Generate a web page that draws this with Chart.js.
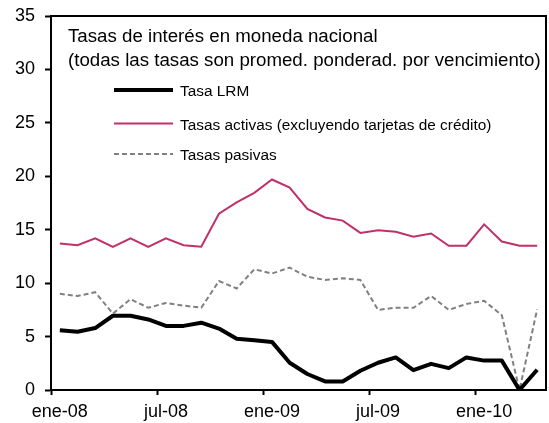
<!DOCTYPE html>
<html>
<head>
<meta charset="utf-8">
<script src="https://cdn.jsdelivr.net/npm/chart.js@4/dist/chart.umd.min.js"></script>
<style>
  html, body { margin: 0; padding: 0; background: #fff; }
  #wrap { width: 549px; height: 423px; }
</style>
</head>
<body>
<div id="wrap"><canvas id="c" width="549" height="423"></canvas></div>
<script>
// ---- data ----
const categories = [
  'ene-08','feb-08','mar-08','abr-08','may-08','jun-08','jul-08','ago-08','sep-08','oct-08','nov-08','dic-08',
  'ene-09','feb-09','mar-09','abr-09','may-09','jun-09','jul-09','ago-09','sep-09','oct-09','nov-09','dic-09',
  'ene-10','feb-10','mar-10','abr-10'
];
const tickLabels = ['ene-08', 'jul-08', 'ene-09', 'jul-09', 'ene-10'];
const tasaLRM = [5.6, 5.45, 5.8, 6.95, 6.95, 6.6, 6.0, 6.0, 6.3, 5.75, 4.8, 4.65, 4.5, 2.55,
                 1.5, 0.8, 0.8, 1.8, 2.55, 3.05, 1.85, 2.45, 2.05, 3.05, 2.75, 2.75, 0, 1.9];
const tasasActivas = [13.7, 13.55, 14.2, 13.4, 14.2, 13.4, 14.2, 13.55, 13.4, 16.5, 17.55, 18.45, 19.7, 18.95,
                      16.95, 16.15, 15.85, 14.7, 14.95, 14.8, 14.35, 14.65, 13.5, 13.5, 15.5, 13.9, 13.5, 13.5];
const tasasPasivas = [9.0, 8.8, 9.15, 7.15, 8.5, 7.7, 8.15, 7.9, 7.7, 10.2, 9.5, 11.3, 10.9, 11.45,
                      10.6, 10.3, 10.45, 10.3, 7.5, 7.7, 7.7, 8.8, 7.5, 8.05, 8.35, 7.0, 0, 7.55];
const seriesNames = ['Tasa LRM', 'Tasas activas (excluyendo tarjetas de crédito)', 'Tasas pasivas'];
const titleLines = ['Tasas de interés en moneda nacional', '(todas las tasas son promed. ponderad. por vencimiento)'];

const FONT = '"Liberation Sans", Arial, sans-serif';

// Title + legend drawn inside the plot area
const insideLegend = {
  id: 'insideLegend',
  afterDatasetsDraw(chart) {
    const ctx = chart.ctx;
    const a = chart.chartArea;
    ctx.save();
    // frame top & right
    ctx.strokeStyle = '#000';
    ctx.lineWidth = 2;
    ctx.beginPath();
    ctx.moveTo(a.left, a.top);
    ctx.lineTo(a.right, a.top);
    ctx.lineTo(a.right, a.bottom);
    ctx.stroke();
    // title
    ctx.fillStyle = '#000';
    ctx.textAlign = 'left';
    ctx.textBaseline = 'alphabetic';
    ctx.font = '18.7px ' + FONT;
    ctx.fillText(titleLines[0], a.left + 17, a.top + 26);
    ctx.fillText(titleLines[1], a.left + 17, a.top + 50);
    // legend entries
    const rows = [74, 107.5, 138];
    ctx.font = '15.4px ' + FONT;
    chart.data.datasets.forEach((ds, i) => {
      const y = a.top + rows[i];
      ctx.save();
      ctx.strokeStyle = ds.borderColor;
      ctx.lineWidth = ds.borderWidth;
      ctx.setLineDash(ds.borderDash || []);
      ctx.beginPath();
      ctx.moveTo(a.left + 63, y);
      ctx.lineTo(a.left + 122, y);
      ctx.stroke();
      ctx.restore();
      ctx.fillText(ds.label, a.left + 129, y + 6);
    });
    ctx.restore();
  }
};

new Chart(document.getElementById('c'), {
  type: 'line',
  data: {
    labels: categories,
    datasets: [
      { label: seriesNames[0], data: tasaLRM, borderColor: '#000000', borderWidth: 4,
        borderJoinStyle: 'round', pointRadius: 0, tension: 0 },
      { label: seriesNames[1], data: tasasActivas, borderColor: '#C0306A', borderWidth: 2,
        pointRadius: 0, tension: 0 },
      { label: seriesNames[2], data: tasasPasivas, borderColor: '#808080', borderWidth: 2,
        borderDash: [5, 3], pointRadius: 0, tension: 0 }
    ]
  },
  options: {
    responsive: false,
    animation: false,
    devicePixelRatio: 1,
    layout: { padding: { top: 16, right: 3, left: 0, bottom: 0 } },
    plugins: { legend: { display: false }, title: { display: false }, tooltip: { enabled: false } },
    scales: {
      x: {
        type: 'category',
        offset: true,
        grid: {
          offset: true,
          drawOnChartArea: false,
          drawTicks: true,
          tickLength: 5,
          tickWidth: 2,
          tickColor: (c) => (c.index !== undefined && c.index % 6 === 0) ? '#000' : 'rgba(0,0,0,0)'
        },
        border: { display: true, color: '#000', width: 2 },
        ticks: {
          autoSkip: false,
          maxRotation: 0,
          minRotation: 0,
          padding: 6,
          color: '#000',
          font: { family: FONT, size: 18 },
          callback: (v, i) => tickLabels.includes(categories[i]) ? categories[i] : ''
        },
        afterFit: (s) => { s.height = 33; }
      },
      y: {
        min: 0, max: 35,
        ticks: { stepSize: 5, color: '#000', padding: 10, font: { family: FONT, size: 18 } },
        grid: { drawOnChartArea: false, drawTicks: true, tickLength: 6, tickWidth: 2, tickColor: '#000' },
        border: { display: true, color: '#000', width: 2 },
        afterFit: (s) => { s.width = 51; s.paddingTop = 0; s.paddingBottom = 0; }
      }
    }
  },
  plugins: [insideLegend]
});
</script>
</body>
</html>
